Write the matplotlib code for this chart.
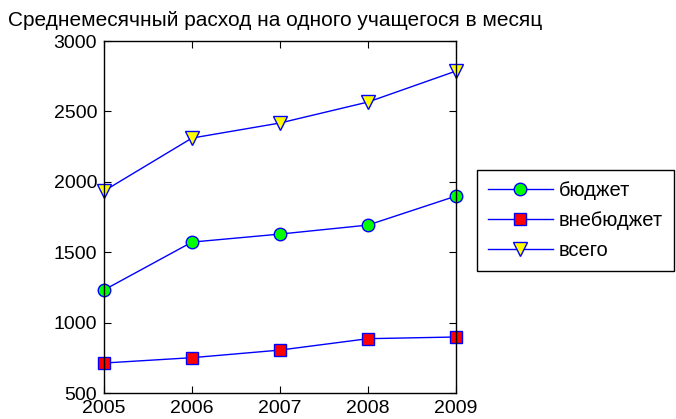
import matplotlib
matplotlib.use('Agg')
import matplotlib.pyplot as plt

# Data
years = [2005, 2006, 2007, 2008, 2009]
budget = [1232, 1572, 1629, 1693, 1899]
extra_budget = [713, 751, 805, 886, 898]
total = [1935, 2311, 2418, 2567, 2787]
labels = ['бюджет', 'внебюджет', 'всего']
title = 'Среднемесячный расход на одного учащегося в месяц'

plt.rcParams['font.family'] = ['Liberation Sans', 'DejaVu Sans']

fig = plt.figure(figsize=(6.76, 4.19), dpi=100)
ax = fig.add_axes([0.1538, 0.062, 0.5208, 0.840])

ax.plot(years, budget, '-o', color='blue', lw=1, markersize=9, clip_on=False,
        markerfacecolor='#00ff00', markeredgecolor='blue', label=labels[0])
ax.plot(years, extra_budget, '-s', color='blue', lw=1, markersize=9, clip_on=False,
        markerfacecolor='red', markeredgecolor='blue', label=labels[1])
ax.plot(years, total, '-v', color='blue', lw=1, markersize=10, clip_on=False,
        markerfacecolor='yellow', markeredgecolor='blue', label=labels[2])

ax.set_xlim(2005, 2009)
ax.set_ylim(500, 3000)
ax.set_xticks(years)
ax.set_yticks([500, 1000, 1500, 2000, 2500, 3000])
ax.tick_params(direction='in', top=True, right=True, labelsize=14, length=5, pad=5)
for s in ax.spines.values():
    s.set_linewidth(1)

# legend box placed in figure coordinates, to the right of the axes
leg = ax.legend(loc='upper left', bbox_to_anchor=(477 / 676, 1 - 170 / 419),
                bbox_transform=fig.transFigure, borderaxespad=0, fontsize=14.5,
                frameon=True, fancybox=False, edgecolor='black', framealpha=1,
                handlelength=3.2, handletextpad=0.3, borderpad=0.55, labelspacing=0.55)
leg.get_frame().set_linewidth(1)

fig.text(8 / 676, 1 - 20 / 419, title, fontsize=15, ha='left', va='center')

fig.savefig('out.png', dpi=100)
